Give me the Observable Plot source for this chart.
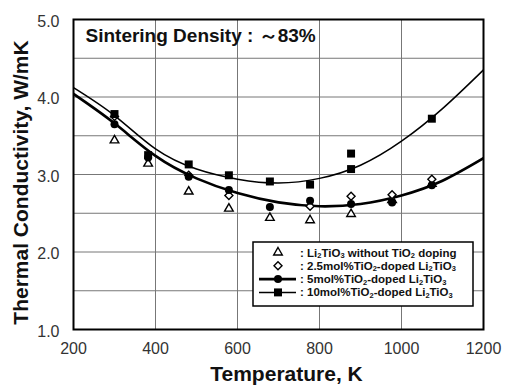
<!DOCTYPE html>
<html>
<head>
<meta charset="utf-8">
<script src="https://cdn.jsdelivr.net/npm/d3@7"></script>
<script src="https://cdn.jsdelivr.net/npm/@observablehq/plot@0.6"></script>
<style>
  html, body { margin: 0; padding: 0; background: white; }
</style>
</head>
<body>
<div id="chart"></div>
<script>
// ---- Data ----
const undopedT = [300, 382, 481, 579, 679, 777, 877, 977, 1074];
const undopedK = [3.44, 3.14, 2.78, 2.56, 2.44, 2.41, 2.49, 2.67, 2.88];

const dope25T = [300, 481, 579, 777, 877, 977, 1074];
const dope25K = [3.75, 2.99, 2.73, 2.59, 2.72, 2.74, 2.94];

const dope5T = [300, 382, 481, 579, 679, 777, 877, 977, 1074];
const dope5K = [3.65, 3.22, 2.97, 2.80, 2.58, 2.66, 2.62, 2.64, 2.86];

const dope10T = [300, 382, 481, 579, 679, 777, 877, 877, 1074];
const dope10K = [3.78, 3.25, 3.13, 2.99, 2.91, 2.87, 3.27, 3.07, 3.72];

// fitted curves
const curveT = [200, 300, 400, 500, 600, 700, 800, 900, 1000, 1100, 1200];
const upperK = [4.12, 3.76, 3.33, 3.07, 2.94, 2.89, 2.95, 3.12, 3.43, 3.85, 4.35];
const lowerK = [4.04, 3.66, 3.24, 2.95, 2.76, 2.64, 2.59, 2.62, 2.73, 2.92, 3.21];

const xTicks = [200, 400, 600, 800, 1000, 1200];
const yTicks = [1, 2, 3, 4, 5];
const yGrid = [1.5, 2, 2.5, 3, 3.5, 4, 4.5];

const titleText = "Sintering Density : \uFF5E83%";
const xLabel = "Temperature, K";
const yLabel = "Thermal Conductivity, W/mK";
const legendLabels = [
  ": Li_2TiO_3 without TiO_2 doping",
  ": 2.5mol%TiO_2-doped Li_2TiO_3",
  ": 5mol%TiO_2-doped Li_2TiO_3",
  ": 10mol%TiO_2-doped Li_2TiO_3"
];

// ---- build tables ----
const zip = (T, K) => T.map((t, i) => ({t, k: K[i]}));
const undoped = zip(undopedT, undopedK);
const d25 = zip(dope25T, dope25K);
const d5 = zip(dope5T, dope5K);
const d10 = zip(dope10T, dope10K);
const upper = zip(curveT, upperK);
const lower = zip(curveT, lowerK);

const FONT = "'Liberation Sans', Arial, Helvetica, sans-serif";
const sym = {triangle: 3.2, diamond2: 3.6, circle: 4, square: 4.5};

const chart = Plot.plot({
  width: 506,
  height: 388,
  marginLeft: 73,
  marginRight: 23,
  marginTop: 19,
  marginBottom: 59,
  style: {fontFamily: FONT, background: "white", color: "#000"},
  x: {domain: [200, 1200]},
  y: {domain: [1, 5]},
  marks: [
    Plot.gridX(xTicks, {stroke: "#777", strokeOpacity: 1, strokeWidth: 1}),
    Plot.gridY(yGrid, {stroke: "#777", strokeOpacity: 1, strokeWidth: 1}),
    Plot.axisX(xTicks, {tickSize: 0, tickPadding: 13, fontSize: 16, fill: "#333", tickFormat: d => String(d), label: null}),
    Plot.axisY(yTicks, {tickSize: 0, tickPadding: 14, fontSize: 16, fill: "#333", dy: 2, tickFormat: d => d.toFixed(1), label: null}),
    Plot.line(upper, {x: "t", y: "k", curve: "natural", stroke: "black", strokeWidth: 1.5, clip: true}),
    Plot.line(lower, {x: "t", y: "k", curve: "natural", stroke: "black", strokeWidth: 2.6, clip: true}),
    Plot.dot(undoped, {x: "t", y: "k", symbol: "triangle", r: sym.triangle, fill: "white", stroke: "black", strokeWidth: 1.4}),
    Plot.dot(d25, {x: "t", y: "k", symbol: "diamond2", r: sym.diamond2, fill: "white", stroke: "black", strokeWidth: 1.4}),
    Plot.dot(d5, {x: "t", y: "k", symbol: "circle", r: sym.circle, fill: "black", stroke: "none"}),
    Plot.dot(d10, {x: "t", y: "k", symbol: "square", r: sym.square, fill: "black", stroke: "none"}),
    Plot.frame({stroke: "black", strokeWidth: 2}),
    Plot.text([titleText], {text: d => d, frameAnchor: "top-left", textAnchor: "start", lineAnchor: "top", dx: 12, dy: 9, fontSize: 19, fontWeight: "bold", fill: "#111"}),
    Plot.text([xLabel], {text: d => d, frameAnchor: "bottom", textAnchor: "middle", lineAnchor: "middle", dx: 8, dy: 45, fontSize: 21, fontWeight: "bold", fill: "#111"}),
    Plot.text([yLabel], {text: d => d, frameAnchor: "left", textAnchor: "middle", lineAnchor: "middle", rotate: -90, dx: -52, dy: 8, fontSize: 21, fontWeight: "bold", fill: "#111"})
  ]
});

document.getElementById("chart").appendChild(chart);

// ---- legend (decoration inside the frame) ----
const svg = d3.select(chart);
const lg = svg.append("g").attr("class", "legend").attr("text-anchor", "start");
const box = {x: 253, y: 242, w: 220, h: 64};
lg.append("rect").attr("x", box.x).attr("y", box.y).attr("width", box.w).attr("height", box.h)
  .attr("fill", "white").attr("stroke", "black").attr("stroke-width", 1.5);
const rowY = [252.5, 265.8, 279.1, 292.4];
const markers = [
  {type: d3.symbolTriangle, r: sym.triangle, fill: "white", stroke: "black", line: 0},
  {type: d3.symbolDiamond2, r: sym.diamond2, fill: "white", stroke: "black", line: 0},
  {type: d3.symbolCircle, r: sym.circle, fill: "black", stroke: "none", line: 2.6},
  {type: d3.symbolSquare, r: sym.square, fill: "black", stroke: "none", line: 1.5}
];
legendLabels.forEach((lab, i) => {
  const m = markers[i];
  const y = rowY[i];
  if (m.line) {
    lg.append("line").attr("x1", 259).attr("x2", 296).attr("y1", y).attr("y2", y)
      .attr("stroke", "black").attr("stroke-width", m.line);
  }
  lg.append("path").attr("transform", `translate(278,${y})`)
    .attr("d", d3.symbol().type(m.type).size(Math.PI * m.r * m.r)())
    .attr("fill", m.fill).attr("stroke", m.stroke).attr("stroke-width", 1.4);
  const t = lg.append("text").attr("x", 300).attr("y", y + 4)
    .attr("text-anchor", "start")
    .attr("font-family", FONT).attr("font-size", 11.5).attr("font-weight", "bold").attr("fill", "#111");
  const parts = lab.split(/(_\d)/).filter(s => s.length);
  parts.forEach(p => {
    if (p.startsWith("_")) {
      t.append("tspan").attr("font-size", 7.5).attr("dy", 1.5).text(p.slice(1));
    } else {
      t.append("tspan").attr("y", y + 4).text(p);
    }
  });
});
</script>
</body>
</html>
